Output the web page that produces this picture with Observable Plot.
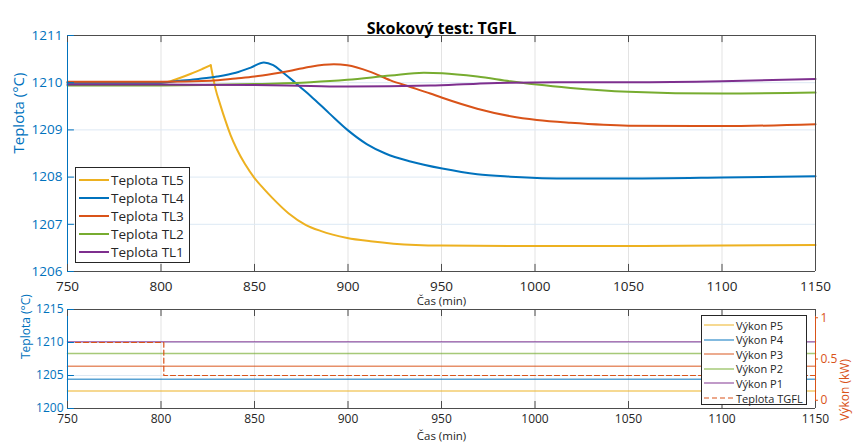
<!DOCTYPE html>
<html><head><meta charset="utf-8">
<script src="https://cdn.jsdelivr.net/npm/d3@7"></script>
<script src="https://cdn.jsdelivr.net/npm/@observablehq/plot@0.6"></script>
<style>
body{margin:0;background:#fff;}
#wrap{position:relative;width:854px;height:444px;overflow:hidden;font-family:"Open Sans",sans-serif;background:#fff;}
#wrap svg{position:absolute;left:0;}
.legend{position:absolute;background:#fff;border:1px solid #262626;box-sizing:border-box;}
.row{position:absolute;left:0;display:flex;align-items:center;white-space:nowrap;color:#262626;}
.row svg{position:static !important;}
</style></head><body><div id="wrap"></div>
<script>
// ---- data ----
const xTicks = [750, 800, 850, 900, 950, 1000, 1050, 1100, 1150];
const yTicksTop = [1206, 1207, 1208, 1209, 1210, 1211];
const yTicksBottom = [1200, 1205, 1210, 1215];
const powerTicks = [0, 0.5, 1];
const powerDomain = [-0.1, 1.1];

const seriesNames = ["Teplota TL5", "Teplota TL4", "Teplota TL3", "Teplota TL2", "Teplota TL1"];
const seriesColors = ["#EDB120", "#0072BD", "#D95319", "#77AC30", "#7E2F8E"];

// TL5: heating ramp up to the peak, then the decay after the step
const TL5rise = [[750,1210.00],[800,1210.00],[803,1210.01],[810,1210.10],[816,1210.19],[822,1210.29],[826.6,1210.37]];
const TL5fall = [[826.6,1210.37],[829.1,1209.88],[831.8,1209.52],[834.5,1209.19],[837.2,1208.89],[840.7,1208.58],
  [845,1208.27],[850,1207.98],[855,1207.75],[859.5,1207.56],[868.3,1207.23],[877.3,1206.99],[885.3,1206.86],
  [899.6,1206.71],[912,1206.64],[924.3,1206.59],[950,1206.55],[1000,1206.54],[1050,1206.54],[1100,1206.55],[1150,1206.56]];
const TL4 = [[750,1210.00],[800,1210.00],[810,1210.04],[820,1210.08],[830,1210.13],[840,1210.21],[848,1210.32],
  [855,1210.43],[860,1210.37],[865,1210.22],[870,1210.06],[875,1209.89],[880,1209.72],[890,1209.35],[900,1208.99],
  [910,1208.70],[920,1208.50],[933.4,1208.33],[950.4,1208.18],[969.1,1208.06],[986.9,1208.01],[1019,1207.97],
  [1050,1207.97],[1100,1207.99],[1150,1208.02]];
const TL3 = [[750,1210.02],[800,1210.02],[826.5,1210.04],[840,1210.09],[850,1210.13],[860,1210.19],[870,1210.26],
  [880,1210.34],[892.4,1210.39],[899.6,1210.37],[912,1210.23],[922.7,1210.05],[933.4,1209.91],[944,1209.77],
  [950.4,1209.68],[969.1,1209.45],[986.9,1209.29],[1001,1209.21],[1019,1209.15],[1050,1209.09],[1100,1209.08],
  [1150,1209.12]];
const TL2 = [[750,1209.94],[800,1209.94],[850,1209.97],[880,1210.01],[899.6,1210.06],[922.7,1210.15],[940.6,1210.21],
  [950.4,1210.20],[969.1,1210.13],[986.9,1210.03],[1001,1209.96],[1019,1209.89],[1050,1209.81],[1100,1209.77],
  [1150,1209.79]];
const TL1 = [[750,1209.96],[800,1209.96],[850,1209.95],[880,1209.93],[900,1209.92],[944,1209.94],[969,1209.98],
  [987,1210.00],[1019,1210.01],[1050,1210.01],[1100,1210.03],[1150,1210.08]];

const powerNames = ["Výkon P5", "Výkon P4", "Výkon P3", "Výkon P2", "Výkon P1"];
const powerValues = [0.112, 0.256, 0.412, 0.568, 0.708];
const powerSpan = [750, 1150];
const tgflName = "Teplota TGFL";
const tgflTime = [750, 801.5, 801.5, 1150];
const tgflTemp = [1210, 1210, 1205, 1205];

// ---- styles ----
const FONT = "Open Sans";
const AX = "#4d4d4d", TXT = "#262626", BLUE = "#0072BD", ORANGE = "#D95319";
const GRIDX = "#e3e3e3", GRIDY = "#dde9f4";

const wrap = document.getElementById("wrap");
const tl = [[TL5rise, TL5fall], [TL4], [TL3], [TL2], [TL1]];

// ---- top chart ----
const topMarks = [
  Plot.ruleX(xTicks, {x: d => d, stroke: GRIDX}),
  Plot.ruleY(yTicksTop, {y: d => d, stroke: GRIDY})
];
tl.forEach((parts, i) => {
  parts.forEach(arr => {
    topMarks.push(Plot.line(arr, {x: d => d[0], y: d => d[1], stroke: seriesColors[i], strokeWidth: 2,
      curve: "monotone-x"}));
  });
});
topMarks.push(
  Plot.ruleY([1211, 1206], {y: d => d, stroke: AX}),
  Plot.ruleX([1150], {x: d => d, stroke: AX}),
  Plot.ruleX([750], {x: d => d, stroke: BLUE}),
  Plot.ruleX(xTicks, {x: d => d, y1: 1211, y2: 1211 - 0.15, stroke: AX}),
  Plot.ruleX(xTicks, {x: d => d, y1: 1206, y2: 1206 + 0.15, stroke: AX}),
  Plot.ruleY(yTicksTop, {y: d => d, x1: 750, x2: 750 + 3.7, stroke: BLUE}),
  Plot.text(xTicks, {x: d => d, y: 1206, dy: 15, text: d => String(d), fill: TXT, fontSize: 13.5}),
  Plot.text(yTicksTop, {x: 750, y: d => d, dx: -5, textAnchor: "end", text: d => String(d), fill: BLUE, fontSize: 13.5}),
  Plot.text(["Teplota (°C)"], {frameAnchor: "left", dx: -48, rotate: -90, text: d => d, fill: BLUE, fontSize: 15}),
  Plot.text(["Čas (min)"], {frameAnchor: "bottom", dy: 33, text: d => d, fill: TXT, fontSize: 11.5}),
  Plot.text(["Skokový test: TGFL"], {frameAnchor: "top", dy: -13, text: d => d, fill: "#000", fontSize: 16, fontWeight: "bold"})
);
const topChart = Plot.plot({
  width: 854, height: 310,
  marginLeft: 67, marginRight: 39, marginTop: 35, marginBottom: 39,
  x: {domain: [750, 1150], axis: null},
  y: {domain: [1206, 1211], axis: null},
  style: {background: "transparent", fontFamily: FONT, overflow: "visible"},
  marks: topMarks
});
topChart.style.top = "0px";
wrap.appendChild(topChart);

// ---- bottom chart ----
const pToT = d3.scaleLinear().domain(powerDomain).range([1200, 1215]);
const powerData = powerNames.flatMap((n, i) => powerSpan.map(t => ({t, p: powerValues[i], n})));
const tgflData = tgflTime.map((t, i) => ({t, v: tgflTemp[i]}));
const bottomChart = Plot.plot({
  width: 854, height: 144,
  marginLeft: 67, marginRight: 39, marginTop: 9, marginBottom: 36,
  x: {domain: [750, 1150], axis: null},
  y: {domain: [1200, 1215], axis: null},
  color: {domain: powerNames, range: seriesColors},
  style: {background: "transparent", fontFamily: FONT, overflow: "visible"},
  marks: [
    Plot.ruleX(xTicks, {x: d => d, stroke: GRIDX}),
    Plot.ruleY(yTicksBottom, {y: d => d, stroke: GRIDY}),
    Plot.line(powerData, {x: "t", y: d => pToT(d.p), z: "n", stroke: "n", strokeWidth: 1.5, strokeOpacity: 0.65}),
    Plot.line(tgflData, {x: "t", y: "v", stroke: ORANGE, strokeWidth: 1.2, strokeDasharray: "5,3"}),
    Plot.ruleY([1215, 1200], {y: d => d, stroke: AX}),
    Plot.ruleX([750], {x: d => d, stroke: BLUE}),
    Plot.ruleX([1150], {x: d => d, stroke: ORANGE}),
    Plot.ruleX(xTicks, {x: d => d, y1: 1215, y2: 1215 - 1.06, stroke: AX}),
    Plot.ruleX(xTicks, {x: d => d, y1: 1200, y2: 1200 + 1.06, stroke: AX}),
    Plot.ruleY(yTicksBottom, {y: d => d, x1: 750, x2: 750 + 3.7, stroke: BLUE}),
    Plot.ruleY(powerTicks, {y: d => pToT(d), x1: 1150, x2: 1150 + 1.6, stroke: ORANGE}),
    Plot.text(xTicks, {x: d => d, y: 1200, dy: 11, text: d => String(d), fill: TXT, fontSize: 12}),
    Plot.text(yTicksBottom, {x: 750, y: d => d, dx: -4, textAnchor: "end", text: d => String(d), fill: BLUE, fontSize: 12}),
    Plot.text(powerTicks, {x: 1150, y: d => pToT(d), dx: 5, textAnchor: "start", text: d => String(d), fill: ORANGE, fontSize: 12}),
    Plot.text(["Teplota (°C)"], {frameAnchor: "left", dx: -41, rotate: -90, text: d => d, fill: BLUE, fontSize: 12}),
    Plot.text(["Výkon (kW)"], {frameAnchor: "right", dx: 30, rotate: -90, text: d => d, fill: ORANGE, fontSize: 12}),
    Plot.text(["Čas (min)"], {frameAnchor: "bottom", dy: 31, text: d => d, fill: TXT, fontSize: 11.5})
  ]
});
bottomChart.style.top = "300px";
wrap.appendChild(bottomChart);

// ---- legends ----
function legend(left, top, w, h, rows, lineX0, lineX1, textX, font) {
  const box = document.createElement("div");
  box.className = "legend";
  Object.assign(box.style, {left: left + "px", top: top + "px", width: w + "px", height: h + "px"});
  rows.forEach(r => {
    const row = document.createElement("div");
    row.className = "row";
    row.style.top = (r.y - 10) + "px";
    row.style.height = "20px";
    row.style.fontSize = font + "px";
    const s = `<svg width="${textX}" height="20" style="display:block"><line x1="${lineX0}" x2="${lineX1}" y1="10" y2="10" stroke="${r.color}" stroke-width="${r.width}" stroke-opacity="${r.opacity}" ${r.dash ? `stroke-dasharray="${r.dash}"` : ""}/></svg>`;
    row.innerHTML = s + `<span>${r.label}</span>`;
    box.appendChild(row);
  });
  wrap.appendChild(box);
}
legend(75, 167, 115, 96,
  seriesNames.map((n, i) => ({label: n, color: seriesColors[i], width: 2, opacity: 1, y: 11.5 + i * 18.2})),
  3, 33, 35, 13.5);
legend(701, 315, 106, 90,
  powerNames.map((n, i) => ({label: n, color: seriesColors[i], width: 1.5, opacity: 0.65, y: 9 + i * 14.6}))
    .concat([{label: tgflName, color: ORANGE, width: 1.2, opacity: 1, dash: "5,3", y: 9 + 5 * 14.6}]),
  2, 32, 34, 11);
</script></body></html>
